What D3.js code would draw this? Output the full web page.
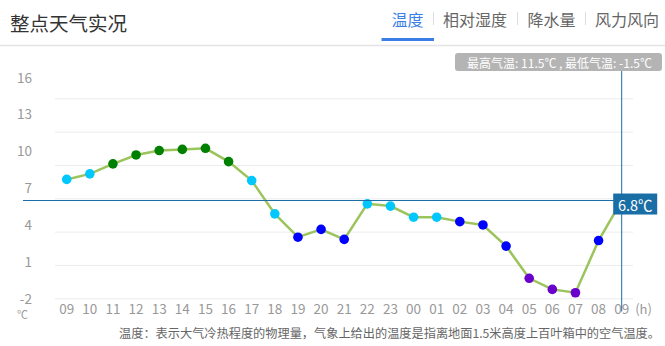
<!DOCTYPE html>
<html>
<head>
<meta charset="utf-8">
<script src="https://cdn.jsdelivr.net/npm/d3@7"></script>
<style>
  html, body { margin: 0; padding: 0; background: #fff; }
  svg { display: block; font-family: "Noto Sans CJK SC", "Noto Sans", sans-serif; }
</style>
</head>
<body>
<svg id="chart" width="665" height="346"></svg>
<script>
// Hourly observations, from 09 one day to 09 the next
const hours = ["09","10","11","12","13","14","15","16","17","18","19","20","21","22","23",
               "00","01","02","03","04","05","06","07","08","09"];
const temps = [8.7, 9.2, 10.1, 10.9, 11.3, 11.4, 11.5, 10.3, 8.6, 5.6, 3.5, 4.2, 3.3,
               6.5, 6.3, 5.3, 5.3, 4.9, 4.6, 2.7, -0.2, -1.2, -1.5, 3.2, 6.8];
const yTicks = [-2, 1, 4, 7, 10, 13, 16];
const tabs = ["温度", "相对湿度", "降水量", "风力风向"];
const title = "整点天气实况";
const note = "温度：表示大气冷热程度的物理量，气象上给出的温度是指离地面1.5米高度上百叶箱中的空气温度。";

// Colour bands for the point markers
const bandLimits = [0, 5, 10];
const bandColors = ["#6a00cc", "#0000ff", "#00c8ff", "#008000"];

const svg = d3.select("#chart");

// ---- header ----
svg.append("text").attr("x", 10).attr("y", 22).attr("dominant-baseline", "central")
  .attr("font-size", 19.5).attr("fill", "#333").text(title);

const tabX = [407.5, 475, 551.5, 627];
const sepX = [433.5, 517.5, 585.5];
tabs.forEach((t, i) => {
  svg.append("text").attr("x", tabX[i]).attr("y", 18.5).attr("text-anchor", "middle")
    .attr("dominant-baseline", "central").attr("font-size", 16)
    .attr("fill", i === 0 ? "#3a7fe6" : "#666").text(t);
});
sepX.forEach(x => svg.append("line").attr("x1", x).attr("x2", x).attr("y1", 12).attr("y2", 25)
  .attr("stroke", "#ddd").attr("stroke-width", 1));
svg.append("rect").attr("x", 381.5).attr("y", 38).attr("width", 52.5).attr("height", 3).attr("fill", "#3a7fe6");
svg.append("line").attr("x1", 0).attr("x2", 665).attr("y1", 45.5).attr("y2", 45.5)
  .attr("stroke", "#e3e3e3").attr("stroke-width", 1.5);

// ---- scales ----
const x = d3.scaleLinear().domain([0, hours.length - 1]).range([66.7, 621.7]);
const y = d3.scaleLinear().domain([-2, 16]).range([298.3, 98.3]);
// tick labels sit on their own, slightly wider spacing
const yLabel = d3.scaleLinear().domain([-2, 16]).range([298, 76.5]);
const band = d3.scaleThreshold().domain(bandLimits).range(bandColors);

// ---- grid ----
const grid = d3.axisLeft(y).tickValues(yTicks).tickSize(-(633 - 55)).tickFormat("");
svg.append("g").attr("transform", "translate(55,0)").call(grid)
  .call(g => g.select(".domain").remove())
  .call(g => g.selectAll("line").attr("stroke", "#ececec").attr("stroke-width", 1));

svg.append("g").selectAll("text").data(yTicks).join("text")
  .attr("x", 32).attr("y", d => yLabel(d)).attr("text-anchor", "end")
  .attr("dominant-baseline", "central").attr("font-size", 13.5).attr("fill", "#999")
  .text(d => d);

// ---- x labels ----
svg.append("g").selectAll("text").data(hours).join("text")
  .attr("x", (d, i) => x(i)).attr("y", 308).attr("text-anchor", "middle")
  .attr("dominant-baseline", "central").attr("font-size", 13.5).attr("fill", "#999")
  .text(d => d);
svg.append("text").attr("x", 643.5).attr("y", 308).attr("text-anchor", "middle")
  .attr("dominant-baseline", "central").attr("font-size", 13).attr("fill", "#999").text("(h)");
svg.append("text").attr("x", 22.5).attr("y", 314).attr("text-anchor", "middle")
  .attr("dominant-baseline", "central").attr("font-size", 11).attr("fill", "#999").text("℃");

// ---- line and points ----
const line = d3.line().x((d, i) => x(i)).y(d => y(d));
svg.append("path").datum(temps).attr("d", line).attr("fill", "none")
  .attr("stroke", "#9cc45c").attr("stroke-width", 2.5);

svg.append("g").selectAll("circle").data(temps).join("circle")
  .attr("cx", (d, i) => x(i)).attr("cy", d => y(d)).attr("r", 4.8)
  .attr("fill", d => band(d));

// ---- crosshair on the latest reading ----
const last = temps.length - 1;
const cx = x(last), cy = y(temps[last]);
const hairColor = "#1a6ea6";
svg.append("line").attr("x1", cx).attr("x2", cx).attr("y1", 70).attr("y2", 311.5)
  .attr("stroke", hairColor).attr("stroke-width", 1);
svg.append("line").attr("x1", 23).attr("x2", cx).attr("y1", cy).attr("y2", cy)
  .attr("stroke", hairColor).attr("stroke-width", 1);
svg.append("rect").attr("x", cx - 8.5).attr("y", cy - 7).attr("width", 44).attr("height", 21)
  .attr("fill", hairColor);
svg.append("text").attr("x", cx + 13.5).attr("y", cy + 3.5).attr("text-anchor", "middle")
  .attr("dominant-baseline", "central").attr("font-size", 14.5).attr("fill", "#fff")
  .text(temps[last] + "℃");

// ---- max / min summary ----
const tmax = d3.max(temps), tmin = d3.min(temps);
svg.append("rect").attr("x", 455).attr("y", 53).attr("width", 207).attr("height", 18)
  .attr("rx", 3).attr("fill", "#b4b4b4");
svg.append("text").attr("x", 559.5).attr("y", 62).attr("text-anchor", "middle")
  .attr("dominant-baseline", "central").attr("font-size", 12).attr("fill", "#fff")
  .text(`最高气温: ${tmax}℃ , 最低气温: ${tmin}℃`);

// ---- footnote ----
svg.append("text").attr("x", 660).attr("y", 333).attr("text-anchor", "end")
  .attr("dominant-baseline", "central").attr("font-size", 12.2).attr("fill", "#666").text(note);
</script>
</body>
</html>
